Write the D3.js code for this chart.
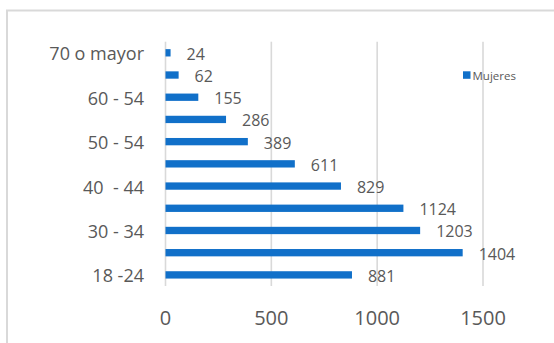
<!DOCTYPE html>
<html>
<head>
<meta charset="utf-8">
<script src="https://cdn.jsdelivr.net/npm/d3@7"></script>
<style>
  body { margin: 0; background: #fff; }
  text { font-family: 'Open Sans', sans-serif; fill: #595959; }
</style>
</head>
<body>
<svg id="chart" width="554" height="343"></svg>
<script>
// age groups, bottom to top
const categories = ['18 -24', '25 - 29', '30 - 34', '35 - 39', '40  - 44', '45 - 49',
  '50 - 54', '55 - 59', '60 - 54', '65 - 69', '70 o mayor'];
const mujeres = [881, 1404, 1203, 1124, 829, 611, 389, 286, 155, 62, 24];
const xTicks = [0, 500, 1000, 1500];
const seriesName = 'Mujeres';

const config = {
  'fill': '#1170c9',
  'grid': '#d9d9d9',
  'left': 165.5,
  'right': 483,
  'top': 41.7,
  'bottom': 286
};

const svg = d3.select('#chart');

// outer chart border (only top and left visible)
svg.append('rect')
  .attr('x', 7)
  .attr('y', 10.5)
  .attr('width', 700)
  .attr('height', 500)
  .attr('fill', 'none')
  .attr('stroke', config['grid'])
  .attr('stroke-width', 2);

const x = d3.scaleLinear()
  .domain([0, 1500])
  .range([config['left'], config['right']]);

const y = d3.scaleBand()
  .domain(categories)
  .range([config['bottom'], config['top']])
  .paddingInner(0.67)
  .paddingOuter(0.335);

// gridlines
svg.append('g')
  .selectAll('line')
  .data(xTicks)
  .enter()
  .append('line')
  .attr('x1', d => x(d))
  .attr('x2', d => x(d))
  .attr('y1', config['top'])
  .attr('y2', config['bottom'])
  .attr('stroke', config['grid'])
  .attr('stroke-width', 1.6);

// x tick labels
svg.append('g')
  .selectAll('text')
  .data(xTicks)
  .enter()
  .append('text')
  .attr('x', d => x(d))
  .attr('y', 317)
  .attr('text-anchor', 'middle')
  .attr('dominant-baseline', 'central')
  .style('font-size', '20px')
  .text(d => d);

// y labels (every other one, like the original)
svg.append('g')
  .selectAll('text')
  .data(categories)
  .enter()
  .append('text')
  .attr('x', 144)
  .attr('y', d => y(d) + y.bandwidth() / 2 + 0.5)
  .attr('text-anchor', 'end')
  .attr('dominant-baseline', 'central')
  .style('font-size', '18px')
  .style('white-space', 'pre')
  .text((d, i) => i % 2 === 0 ? d : '');

// bars
svg.append('g')
  .selectAll('rect')
  .data(mujeres)
  .enter()
  .append('rect')
  .attr('x', x(0))
  .attr('y', (d, i) => y(categories[i]))
  .attr('width', d => x(d) - x(0))
  .attr('height', y.bandwidth())
  .attr('fill', config['fill']);

// value labels
svg.append('g')
  .selectAll('text')
  .data(mujeres)
  .enter()
  .append('text')
  .attr('x', d => x(d) + 16)
  .attr('y', (d, i) => y(categories[i]) + y.bandwidth() / 2 + 1)
  .attr('dominant-baseline', 'central')
  .style('font-size', '16px')
  .text(d => d);

// legend
const legend = svg.append('g')
  .attr('transform', 'translate(463, 75)');

legend.append('rect')
  .attr('x', 0)
  .attr('y', -3.7)
  .attr('width', 7.5)
  .attr('height', 7.5)
  .attr('fill', config['fill']);

legend.append('text')
  .attr('x', 9.5)
  .attr('y', 0)
  .attr('dominant-baseline', 'central')
  .style('font-size', '11.5px')
  .text(seriesName);
</script>
</body>
</html>
